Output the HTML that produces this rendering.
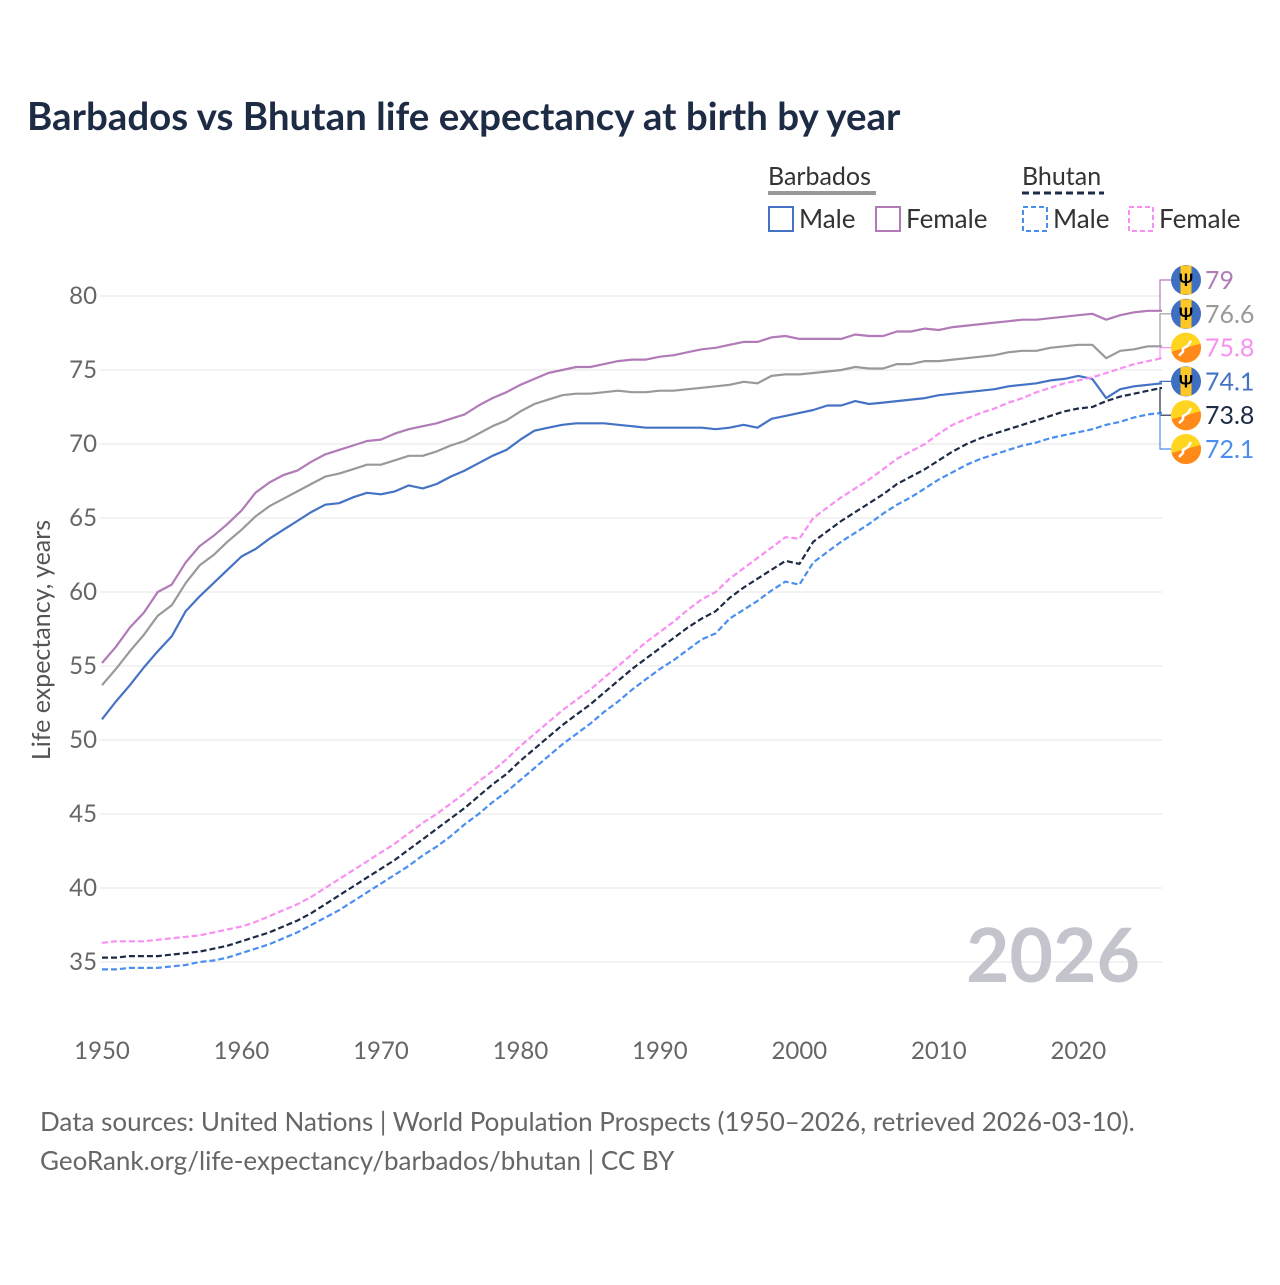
<!DOCTYPE html>
<html><head><meta charset="utf-8">
<style>
body{margin:0;background:#fff;font-family:"Liberation Sans",sans-serif;}
svg text{font-family:"Lato","Liberation Sans",sans-serif;}
</style></head>
<body>
<svg id="chart" width="1280" height="1280" viewBox="0 0 1280 1280" xmlns="http://www.w3.org/2000/svg">
<rect width="1280" height="1280" fill="#fff"/>
<text x="27" y="130" font-size="38.5" font-weight="bold" fill="#1d2b45">Barbados vs Bhutan life expectancy at birth by year</text>
<g>
 <text x="768" y="185" font-size="25" fill="#333">Barbados</text>
 <line x1="768" y1="193" x2="876" y2="193" stroke="#999" stroke-width="4"/>
 <text x="1022" y="185" font-size="25" fill="#333">Bhutan</text>
 <line x1="1022" y1="193" x2="1104" y2="193" stroke="#1d2b45" stroke-width="3" stroke-dasharray="7,4"/>
 <g><rect x="769" y="207" width="24" height="24" fill="none" stroke="#4472c4" stroke-width="2"/><text x="799" y="228" font-size="26" fill="#333">Male</text></g>
 <g><rect x="876" y="207" width="24" height="24" fill="none" stroke="#b07bb6" stroke-width="2"/><text x="906" y="228" font-size="26" fill="#333">Female</text></g>
 <g><rect x="1023" y="207" width="24" height="24" fill="none" stroke="#4a8ff0" stroke-width="2" stroke-dasharray="5,3"/><text x="1053" y="228" font-size="26" fill="#333">Male</text></g>
 <g><rect x="1129" y="207" width="24" height="24" fill="none" stroke="#f98ff2" stroke-width="2" stroke-dasharray="5,3"/><text x="1159" y="228" font-size="26" fill="#333">Female</text></g>
</g>
<g id="grid"></g>
<g id="series"></g>
<g id="labels"></g>
<text x="1140" y="982" font-size="75" font-weight="bold" fill="#c4c4cc" text-anchor="end">2026</text>
<text transform="translate(50,640) rotate(-90)" font-size="25" fill="#555" text-anchor="middle">Life expectancy, years</text>
<text x="40" y="1131" font-size="26" fill="#666">Data sources: United Nations | World Population Prospects (1950–2026, retrieved 2026-03-10).</text>
<text x="40" y="1170" font-size="26" fill="#666">GeoRank.org/life-expectancy/barbados/bhutan | CC BY</text>
</svg>
<script>
const startYear = 1950;
const yTicks = [35,40,45,50,55,60,65,70,75,80];
const xTicks = [1950,1960,1970,1980,1990,2000,2010,2020];
const barbadosFemale = [55.2,56.3,57.6,58.6,60.0,60.5,62.0,63.1,63.8,64.6,65.5,66.7,67.4,67.9,68.2,68.8,69.3,69.6,69.9,70.2,70.3,70.7,71.0,71.2,71.4,71.7,72.0,72.6,73.1,73.5,74.0,74.4,74.8,75.0,75.2,75.2,75.4,75.6,75.7,75.7,75.9,76.0,76.2,76.4,76.5,76.7,76.9,76.9,77.2,77.3,77.1,77.1,77.1,77.1,77.4,77.3,77.3,77.6,77.6,77.8,77.7,77.9,78.0,78.1,78.2,78.3,78.4,78.4,78.5,78.6,78.7,78.8,78.4,78.7,78.9,79.0,79.0];
const barbadosTotal = [53.7,54.8,56.0,57.1,58.4,59.1,60.6,61.8,62.5,63.4,64.2,65.1,65.8,66.3,66.8,67.3,67.8,68.0,68.3,68.6,68.6,68.9,69.2,69.2,69.5,69.9,70.2,70.7,71.2,71.6,72.2,72.7,73.0,73.3,73.4,73.4,73.5,73.6,73.5,73.5,73.6,73.6,73.7,73.8,73.9,74.0,74.2,74.1,74.6,74.7,74.7,74.8,74.9,75.0,75.2,75.1,75.1,75.4,75.4,75.6,75.6,75.7,75.8,75.9,76.0,76.2,76.3,76.3,76.5,76.6,76.7,76.7,75.8,76.3,76.4,76.6,76.6];
const barbadosMale = [51.4,52.6,53.7,54.9,56.0,57.0,58.7,59.7,60.6,61.5,62.4,62.9,63.6,64.2,64.8,65.4,65.9,66.0,66.4,66.7,66.6,66.8,67.2,67.0,67.3,67.8,68.2,68.7,69.2,69.6,70.3,70.9,71.1,71.3,71.4,71.4,71.4,71.3,71.2,71.1,71.1,71.1,71.1,71.1,71.0,71.1,71.3,71.1,71.7,71.9,72.1,72.3,72.6,72.6,72.9,72.7,72.8,72.9,73.0,73.1,73.3,73.4,73.5,73.6,73.7,73.9,74.0,74.1,74.3,74.4,74.6,74.4,73.1,73.7,73.9,74.0,74.1];
const bhutanFemale = [36.3,36.4,36.4,36.4,36.5,36.6,36.7,36.8,37.0,37.2,37.4,37.7,38.1,38.5,38.9,39.4,40.0,40.6,41.2,41.8,42.4,43.0,43.7,44.4,45.0,45.7,46.4,47.2,47.9,48.7,49.6,50.4,51.2,52.0,52.7,53.4,54.2,55.0,55.8,56.6,57.3,58.0,58.8,59.5,60.0,60.9,61.6,62.3,63.0,63.7,63.6,65.0,65.7,66.4,67.0,67.6,68.3,69.0,69.5,70.0,70.7,71.3,71.7,72.1,72.4,72.8,73.1,73.5,73.8,74.1,74.3,74.5,74.8,75.1,75.4,75.6,75.8];
const bhutanTotal = [35.3,35.3,35.4,35.4,35.4,35.5,35.6,35.7,35.9,36.1,36.4,36.7,37.0,37.4,37.8,38.3,38.9,39.5,40.1,40.7,41.3,41.9,42.6,43.3,44.0,44.7,45.4,46.2,47.0,47.7,48.6,49.4,50.2,51.0,51.7,52.4,53.2,54.0,54.8,55.5,56.2,56.9,57.6,58.2,58.7,59.6,60.3,60.9,61.5,62.1,61.9,63.4,64.1,64.8,65.4,66.0,66.6,67.3,67.8,68.3,68.9,69.5,70.0,70.4,70.7,71.0,71.3,71.6,71.9,72.2,72.4,72.5,72.9,73.2,73.4,73.6,73.8];
const bhutanMale = [34.5,34.5,34.6,34.6,34.6,34.7,34.8,35.0,35.1,35.3,35.6,35.9,36.2,36.6,37.0,37.5,38.0,38.5,39.1,39.7,40.3,40.9,41.5,42.2,42.8,43.5,44.3,45.0,45.8,46.5,47.3,48.1,48.9,49.7,50.4,51.1,51.9,52.6,53.4,54.1,54.8,55.4,56.1,56.8,57.2,58.2,58.8,59.4,60.1,60.7,60.5,62.0,62.7,63.4,64.0,64.6,65.3,65.9,66.4,67.0,67.6,68.1,68.6,69.0,69.3,69.6,69.9,70.1,70.4,70.6,70.8,71.0,71.3,71.5,71.8,72.0,72.1];

const NS='http://www.w3.org/2000/svg';
const X0=102, X1=1162, Y0=962, Y1=296;
const xScale = yr => X0 + (yr-1950)/(2026-1950)*(X1-X0);
const yScale = v => Y0 - (v-35)/(80-35)*(Y0-Y1);
function mk(tag, attrs, parent){const e=document.createElementNS(NS,tag);for(const k in attrs)e.setAttribute(k,attrs[k]);parent.appendChild(e);return e;}
const grid=document.getElementById('grid');
yTicks.forEach(t=>{
  const l=mk('line',{x1:X0-2,x2:X1,y1:yScale(t),y2:yScale(t),stroke:'#e6e6e6','stroke-width':1},grid);
  
  
  const tx=mk('text',{x:97,y:yScale(t)+8,'font-size':24,fill:'#666','text-anchor':'end'},grid);
  tx.textContent=t;
  
  
});
xTicks.forEach(t=>{
  const tx=mk('text',{x:xScale(t),y:1059,'font-size':24,fill:'#666','text-anchor':'middle'},grid);
  tx.textContent=t;
  
  
});
const seriesDefs=[
 {d:barbadosFemale,c:'#b07bb6',dash:null,n:'barbados-female'},
 {d:barbadosTotal,c:'#999999',dash:null,n:'barbados-total'},
 {d:barbadosMale,c:'#4472c4',dash:null,n:'barbados-male'},
 {d:bhutanFemale,c:'#f98ff2',dash:'6,3',n:'bhutan-female'},
 {d:bhutanTotal,c:'#1d2b45',dash:'6,3',n:'bhutan-total'},
 {d:bhutanMale,c:'#4a8ff0',dash:'6,3',n:'bhutan-male'}];
const sg=document.getElementById('series');
seriesDefs.forEach(s=>{
  const pts=s.d.map((v,i)=>xScale(startYear+i).toFixed(1)+','+yScale(v).toFixed(1)).join(' ');
  const a={points:pts,fill:'none',stroke:s.c,'stroke-width':2.2,'stroke-linejoin':'round'};
  if(s.dash)a['stroke-dasharray']=s.dash;
  const p=mk('polyline',a,sg);
  
  
});
const lg=document.getElementById('labels');
const endOrder=[0,1,3,2,4,5];
const flags=['bb','bb','bt','bb','bt','bt'];
endOrder.forEach((si,k)=>{
  const s=seriesDefs[si]; const v=s.d[s.d.length-1];
  const ly=280+k*33.8, ey=yScale(v);
  const c=mk('polyline',{points:`${X1},${ey} ${X1-2},${ey} ${X1-2},${ly} ${1172},${ly}`,fill:'none',stroke:s.c,'stroke-width':1.2},lg);
  
  
  const g=mk('g',{},lg);
  
  
  if(flags[k]==='bb'){
    mk('circle',{cx:1186,cy:ly,r:15,fill:'#3f6fc0'},g);
    mk('rect',{x:1180.5,y:ly-14.5,width:11,height:29,fill:'#ffc726'},g);
    const t=mk('text',{x:1186,y:ly+6,'font-size':17,'font-weight':'bold','text-anchor':'middle',fill:'#000'},g);t.textContent='Ψ';
  } else {
    mk('circle',{cx:1186,cy:ly,r:15,fill:'#ffd520'},g);
    mk('path',{d:`M1171.5,${ly+4} L1200.5,${ly-4} A15,15 0 0 1 1171.5,${ly+4} Z`,fill:'#ff8a1a'},g);
    mk('path',{d:`M1179,${ly+8} l4,-4 l0,-3 l5,-3 l3,-5`,fill:'none',stroke:'#fff','stroke-width':2.5},g);
  }
  const t=mk('text',{x:1205,y:ly+9,'font-size':25,fill:s.c},lg);
  t.textContent=String(Math.round(v*10)/10);
  
  
});
</script>
</body></html>
